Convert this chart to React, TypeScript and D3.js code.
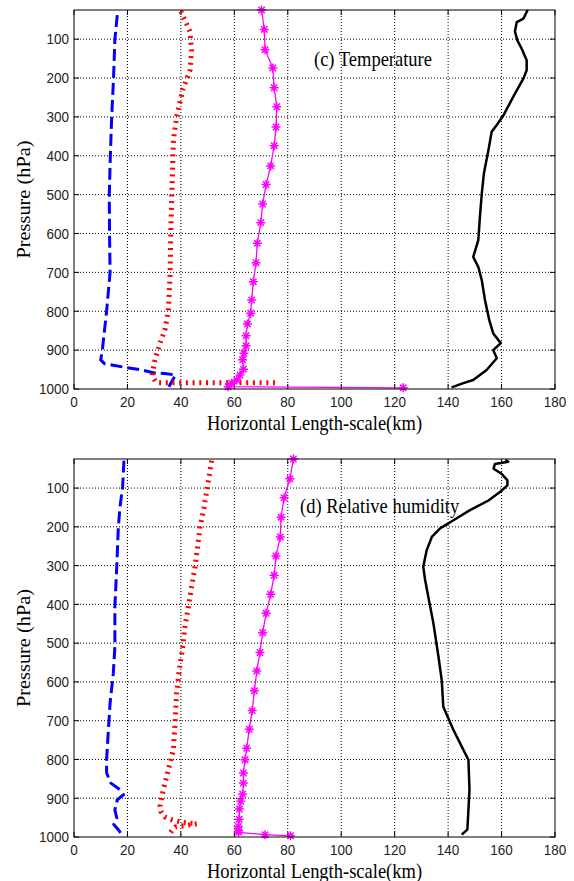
import React from "react";
import * as d3 from "d3";

// ---------- axis ticks ----------
const PRESSURE_TICKS = [100, 200, 300, 400, 500, 600, 700, 800, 900, 1000];
const LENGTH_TICKS = [0, 20, 40, 60, 80, 100, 120, 140, 160, 180];
const PRESSURE_DOMAIN = [25, 1000];
const LENGTH_DOMAIN = [0, 180];

// ---------- (c) Temperature : [pressure hPa, length km] ----------
const tempBlue: [number, number][] = [
  [38, 16.2], [100, 15.3], [200, 14.8], [300, 14.1], [400, 13.6], [500, 13.2], [600, 13.3],
  [700, 13.5], [800, 12.2], [900, 10.6], [925, 10], [935, 11.5], [945, 19.7], [950, 24.7],
  [958, 29.7], [961, 34.7], [964, 38], [994, 35.5],
];
const tempRed: [number, number][] = [
  [28, 40], [80, 43.4], [130, 44], [180, 43.4], [230, 40.7], [300, 38.4], [360, 37.2],
  [500, 36.6], [600, 36.2], [700, 36], [800, 35.3], [848, 34], [882, 32.2], [925, 30.3],
  [965, 29.2], [975, 30], [984, 31], [984, 76],
];
const tempMagenta: [number, number][] = [
  [25, 70.2], [75, 71.2], [127, 71.5], [174, 74.4], [225, 74.9], [274, 75.9], [326, 75.6],
  [374, 74.9], [426, 73.6], [474, 71.9], [524, 70.6], [572, 69.9], [625, 68.6], [675, 68.1],
  [724, 67.1], [771, 66.5], [805, 66.1], [833, 64.9], [863, 64.4], [889, 64.4], [908, 63.6],
  [925, 63.1], [949, 63.4], [964, 62.1], [977, 60.9], [985, 59], [994, 57.7], [997, 123.2],
];
const tempBlack: [number, number][] = [
  [25, 169.8], [30, 169.4], [47, 168.2], [56, 165.7], [80, 165], [103, 165.9], [124, 167.5],
  [154, 169.4], [180, 169.4], [201, 168.2], [248, 164.4], [296, 160.7], [321, 158.2],
  [338, 156.3], [385, 155.1], [445, 153.4], [497, 152.6], [557, 151.9], [617, 151.3],
  [660, 149.4], [686, 151.3], [720, 152.6], [771, 153.8], [823, 155.4], [857, 156.9],
  [882, 159.7], [900, 156.9], [921, 158.2], [951, 154.4], [977, 149.4], [985, 145.7], [996, 141.3],
];

// ---------- (d) Relative humidity ----------
const humBlue: [number, number][] = [
  [29, 18.7], [97, 18.2], [149, 17.2], [200, 16.6], [303, 16], [406, 15.3], [509, 15.3],
  [578, 14.7], [655, 13.5], [732, 12.8], [801, 12.2], [835, 12.2], [861, 13.8], [878, 17.2],
  [891, 18.5], [904, 16.2], [930, 15.3], [951, 16], [968, 14.9], [981, 16.6], [994, 17.9],
];
const humRed: [number, number][] = [
  [29, 51.5], [80, 50.3], [149, 48.7], [200, 47.2], [303, 45.3], [355, 44], [406, 42.8],
  [458, 41.5], [509, 40.7], [569, 39.4], [629, 38.4], [707, 37.8], [775, 37.2], [827, 35.3],
  [878, 33.4], [921, 32.2], [934, 32.5], [948, 34], [955, 36.5], [962, 40], [966, 46],
  [970, 42], [974, 38], [980, 37], [990, 36], [998, 35.5],
];
const humMagenta: [number, number][] = [
  [25, 82.1], [76, 80.8], [125, 78.6], [175, 77.5], [226, 77.2], [275, 75.6], [325, 74.9],
  [374, 73.6], [423, 71.9], [473, 70.6], [524, 69.6], [572, 68.4], [623, 67.5], [674, 66.7],
  [722, 65.6], [771, 64.6], [801, 64], [835, 63.4], [861, 63.4], [889, 63.1], [908, 62.4],
  [928, 61.9], [954, 61.8], [973, 61.5], [983, 61.6], [988, 61.6], [994, 71.5], [997, 81],
];
const humBlack: [number, number][] = [
  [27, 161.5], [32, 162.5], [38, 157.5], [50, 157], [63, 160], [80, 162.2], [93, 162.2],
  [110, 159.4], [132, 155.1], [157, 148.2], [183, 142], [204, 137], [226, 133.9], [260, 132],
  [303, 130.7], [337, 131.4], [381, 132.6], [449, 134.5], [535, 136.4], [595, 137.6],
  [664, 138.2], [724, 142], [767, 145.1], [801, 147.6], [878, 148], [930, 147.6],
  [981, 147.2], [994, 145.1],
];

const PANEL_LABELS = ["(c) Temperature", "(d) Relative humidity"];
const X_TITLE = "Horizontal Length-scale(km)";
const Y_TITLE = "Pressure (hPa)";

const SANS = "'Liberation Sans', Arial, sans-serif";
const SERIF = "'Liberation Serif', 'Times New Roman', serif";

const STAR = "M-4.5,0L4.5,0M0,-4.5L0,4.5M-3.2,-3.2L3.2,3.2M-3.2,3.2L3.2,-3.2";

type Series = [number, number][];

function Panel(props: {
  top: number;
  bottom: number;
  blue: Series;
  red: Series;
  magenta: Series;
  black: Series;
  label: string;
  labelX: number;
  labelY: number;
}) {
  const left = 74;
  const right = 555;
  const { top, bottom } = props;
  const x = d3.scaleLinear().domain(LENGTH_DOMAIN).range([left, right]);
  const y = d3.scaleLinear().domain(PRESSURE_DOMAIN).range([top, bottom]);
  const line = d3
    .line<[number, number]>()
    .x((d) => x(d[1]))
    .y((d) => y(d[0]));
  const tickLen = 5;
  const cy = (top + bottom) / 2;
  const cx = (left + right) / 2;
  return (
    <g>
      {/* grid */}
      {LENGTH_TICKS.filter((t) => t > 0 && t < 180).map((t) => (
        <line key={"gx" + t} x1={x(t)} x2={x(t)} y1={top} y2={bottom} stroke="#000" strokeWidth={1} strokeDasharray="1,2" />
      ))}
      {PRESSURE_TICKS.filter((t) => t < 1000).map((t) => (
        <line key={"gy" + t} x1={left} x2={right} y1={y(t)} y2={y(t)} stroke="#000" strokeWidth={1} strokeDasharray="1,2" />
      ))}
      {/* ticks */}
      {LENGTH_TICKS.map((t) => (
        <g key={"tx" + t}>
          <line x1={x(t)} x2={x(t)} y1={bottom} y2={bottom - tickLen} stroke="#000" />
          <line x1={x(t)} x2={x(t)} y1={top} y2={top + tickLen} stroke="#000" />
          <text
            transform={`translate(${x(t)},${bottom + 13}) scale(1,1.15)`}
            textAnchor="middle"
            dominantBaseline="central"
            fontFamily={SANS}
            fontSize={13.5}
            fill="#222"
          >
            {t}
          </text>
        </g>
      ))}
      {PRESSURE_TICKS.map((t) => (
        <g key={"ty" + t}>
          <line x1={left} x2={left + tickLen} y1={y(t)} y2={y(t)} stroke="#000" />
          <line x1={right} x2={right - tickLen} y1={y(t)} y2={y(t)} stroke="#000" />
          <text
            transform={`translate(${left - 5},${y(t)}) scale(1,1.15)`}
            textAnchor="end"
            dominantBaseline="central"
            fontFamily={SANS}
            fontSize={13.5}
            fill="#222"
          >
            {t}
          </text>
        </g>
      ))}
      {/* series */}
      <path d={line(props.blue) || ""} fill="none" stroke="#0000ff" strokeWidth={3} strokeDasharray="12,5" />
      <path d={line(props.red) || ""} fill="none" stroke="#ff0000" strokeWidth={5} strokeDasharray="2,4.7" />
      <path d={line(props.magenta) || ""} fill="none" stroke="#ff00ff" strokeWidth={1.3} />
      {props.magenta.map((d, i) => (
        <path key={"m" + i} d={STAR} transform={`translate(${x(d[1])},${y(d[0])})`} fill="none" stroke="#ff00ff" strokeWidth={1.5} />
      ))}
      <path d={line(props.black) || ""} fill="none" stroke="#000" strokeWidth={2.5} strokeLinejoin="round" />
      {/* box */}
      <rect x={left} y={top} width={right - left} height={bottom - top} fill="none" stroke="#000" strokeWidth={1} />
      {/* panel label */}
      <text
        transform={`translate(${props.labelX},${props.labelY}) scale(1,1.1)`}
        dominantBaseline="central"
        fontFamily={SERIF}
        fontSize={18.5}
        fill="#000"
      >
        {props.label}
      </text>
      {/* axis titles */}
      <text
        transform={`translate(${cx},${bottom + 34}) scale(1,1.1)`}
        textAnchor="middle"
        dominantBaseline="central"
        fontFamily={SERIF}
        fontSize={18.5}
        fill="#000"
      >
        {X_TITLE}
      </text>
      <text
        transform={`translate(24,${cy}) rotate(-90) scale(1.1,1)`}
        textAnchor="middle"
        dominantBaseline="central"
        fontFamily={SERIF}
        fontSize={18.5}
        fill="#000"
      >
        {Y_TITLE}
      </text>
    </g>
  );
}

export default function App() {
  return (
    <svg
      width={574}
      height={881}
      style={{ position: "absolute", left: 0, top: 0, background: "#fff" }}
    >
      <rect x={0} y={0} width={574} height={881} fill="#fff" />
      <Panel
        top={10}
        bottom={389}
        blue={tempBlue}
        red={tempRed}
        magenta={tempMagenta}
        black={tempBlack}
        label={PANEL_LABELS[0]}
        labelX={314}
        labelY={59}
      />
      <Panel
        top={459}
        bottom={837}
        blue={humBlue}
        red={humRed}
        magenta={humMagenta}
        black={humBlack}
        label={PANEL_LABELS[1]}
        labelX={300}
        labelY={506}
      />
    </svg>
  );
}
